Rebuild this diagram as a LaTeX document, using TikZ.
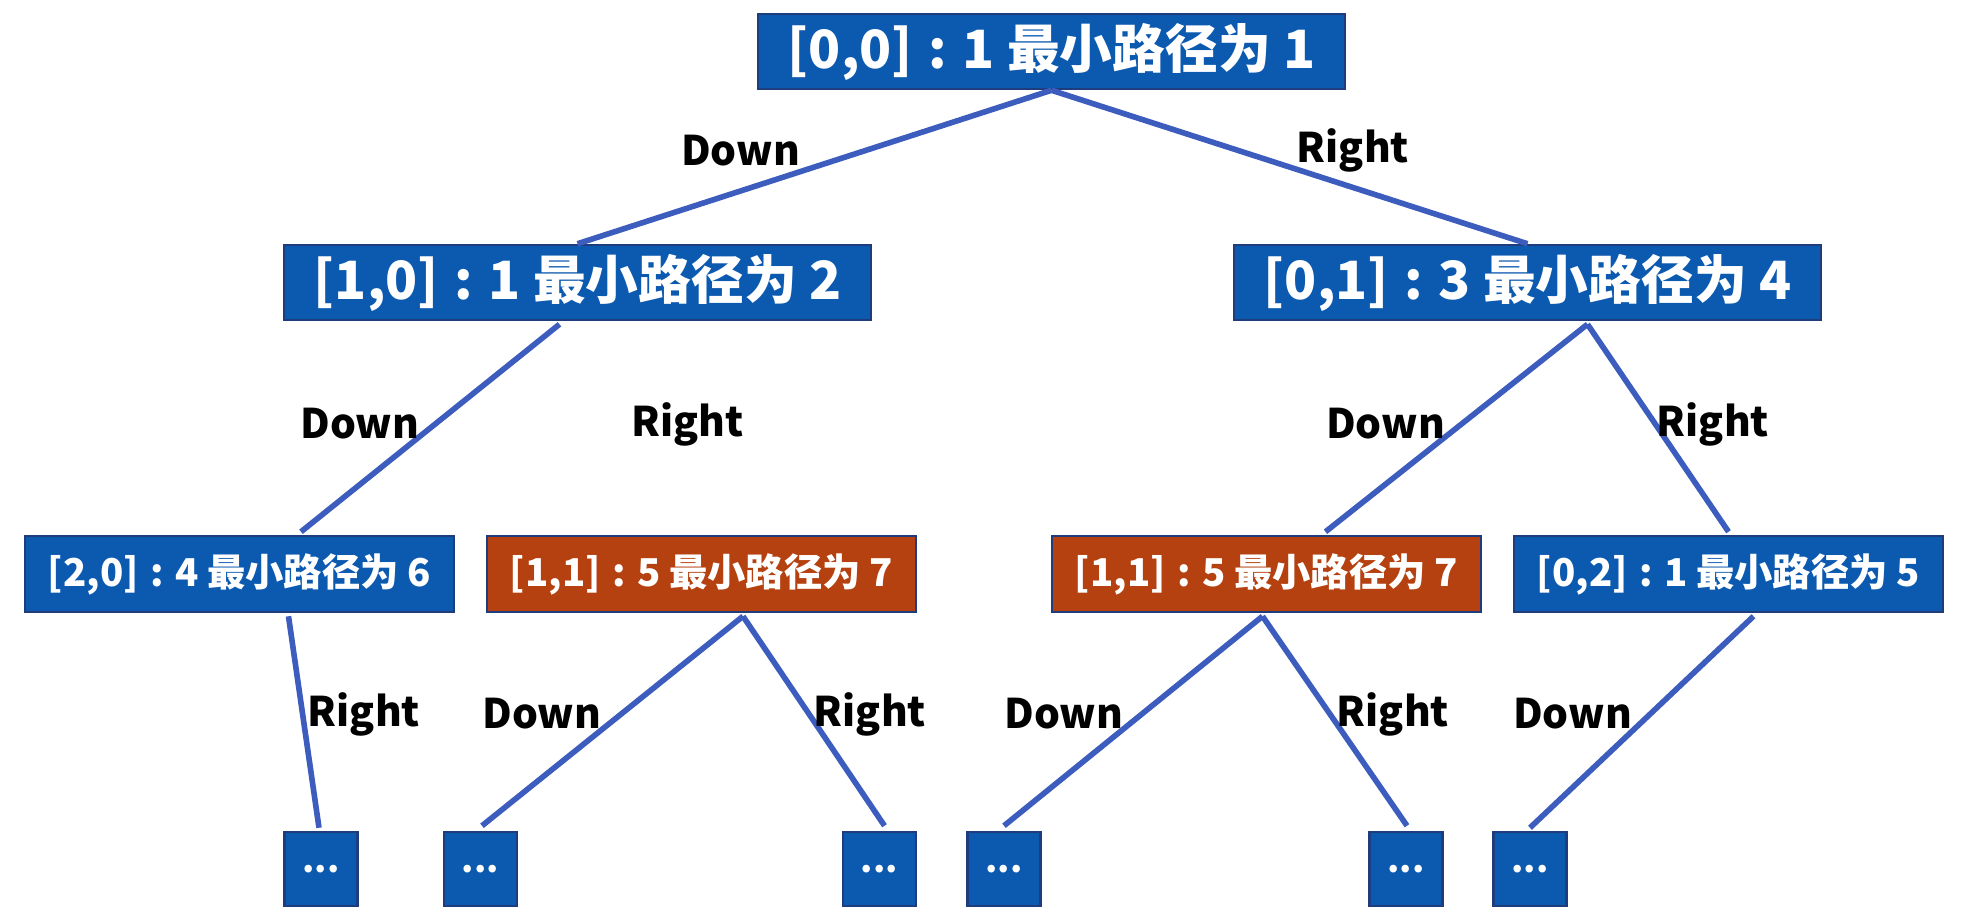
\documentclass[tikz,border=0pt]{standalone}
\usepackage{fontspec}
\setmainfont{Noto Sans CJK SC}
\usetikzlibrary{calc}
\definecolor{boxblue}{HTML}{0C5AB0}
\definecolor{boxorange}{HTML}{B4410F}
\definecolor{boxedge}{HTML}{1F3D7C}
\definecolor{linkblue}{HTML}{3C5DBD}
\newcommand{\cln}{\hspace{0.3em}:\hspace{0.3em}}
\begin{document}
\begin{tikzpicture}[x=0.01cm,y=-0.01cm,
  bigbox/.style={draw=boxedge,line width=0.7pt,fill=boxblue,text=white,font=\fontsize{15}{18}\selectfont\bfseries,minimum width=5.87cm,minimum height=0.75cm,inner sep=0pt},
  midbox/.style={draw=boxedge,line width=0.7pt,fill=boxblue,text=white,font=\fontsize{10.9}{14}\selectfont\bfseries,minimum width=4.29cm,minimum height=0.76cm,inner sep=0pt},
  orangebox/.style={midbox,fill=boxorange},
  dotbox/.style={draw=boxedge,line width=0.7pt,fill=boxblue,text=white,font=\fontsize{10}{12}\selectfont\bfseries,minimum width=0.73cm,minimum height=0.74cm,inner sep=0pt},
  link/.style={draw=linkblue,line width=1.6pt},
  lbl/.style={font=\fontsize{11.6}{14}\selectfont\bfseries,text=black,inner sep=0pt}]
\useasboundingbox (0,0) rectangle (1968,920);
% nodes
\node[bigbox] (root) at (1051.5,51.5) {[0,0]\cln 1 最小路径为 1};
\node[bigbox] (l1) at (577.5,282.5) {[1,0]\cln 1 最小路径为 2};
\node[bigbox] (r1) at (1527.5,282.5) {[0,1]\cln 3 最小路径为 4};
\node[midbox] (a) at (239.5,574) {[2,0]\cln 4 最小路径为 6};
\node[orangebox] (b) at (701.5,574) {[1,1]\cln 5 最小路径为 7};
\node[orangebox] (c) at (1266.5,574) {[1,1]\cln 5 最小路径为 7};
\node[midbox] (d) at (1728.5,574) {[0,2]\cln 1 最小路径为 5};
\node[dotbox] (e1) at (321,869) {...};
\node[dotbox] (e2) at (480.5,869) {...};
\node[dotbox] (e3) at (879.5,869) {...};
\node[dotbox] (e4) at (1004,869) {...};
\node[dotbox] (e5) at (1406,869) {...};
\node[dotbox] (e6) at (1530,869) {...};
% connectors
\draw[link] (root.south) -- (l1.north);
\draw[link] (root.south) -- (r1.north);
\draw[link] ($(l1.south)+(-18,3)$) -- ($(a.north)+(61.5,-3)$);
\draw[link] ($(r1.south)+(60,3)$) -- ($(c.north)+(59,-3)$);
\draw[link] ($(r1.south)+(60,3)$) -- ($(d.north)+(0,-3)$);
\draw[link] ($(a.south)+(49,3)$) -- ($(e1.north)+(-2,-3)$);
\draw[link] ($(b.south)+(41.5,3)$) -- ($(e2.north)+(1.5,-5)$);
\draw[link] ($(b.south)+(41.5,3)$) -- ($(e3.north)+(5,-5)$);
\draw[link] ($(c.south)+(-4,3)$) -- ($(e4.north)+(0,-5)$);
\draw[link] ($(c.south)+(-4,3)$) -- ($(e5.north)+(1,-5)$);
\draw[link] ($(d.south)+(25,3)$) -- ($(e6.north)+(0,-3)$);
% labels
\node[lbl] (t1) at (740.5,150.6) {Down};
\node[lbl] (t2) at (1353,150.6) {Right};
\node[lbl] (t3) at (360,424) {Down};
\node[lbl] (t4) at (687.8,424) {Right};
\node[lbl] (t5) at (1385.6,424) {Down};
\node[lbl] (t6) at (1713,424) {Right};
\node[lbl] (t7) at (364,714) {Right};
\node[lbl] (t8) at (542,714) {Down};
\node[lbl] (t9) at (870,714) {Right};
\node[lbl] (t10) at (1064,714) {Down};
\node[lbl] (t11) at (1393,714) {Right};
\node[lbl] (t12) at (1572.6,714) {Down};
\end{tikzpicture}
\end{document}
